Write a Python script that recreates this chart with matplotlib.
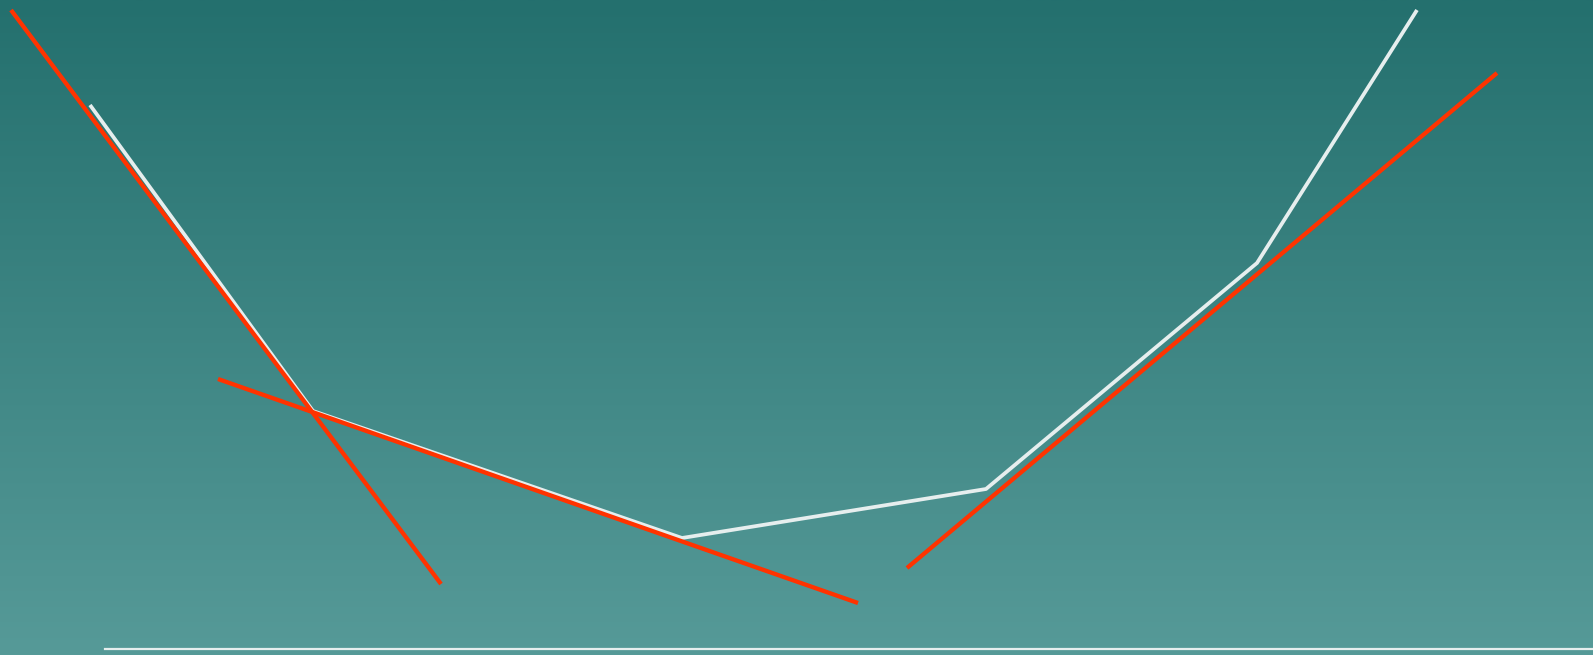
import numpy as np
import matplotlib
matplotlib.use("Agg")
import matplotlib.pyplot as plt
from matplotlib.colors import LinearSegmentedColormap

# Data
white_x = [90, 313, 682, 986, 1257, 1417]
white_y = [544, 238, 111, 160, 386, 639]

red_a_x = [11, 441]
red_a_y = [639, 65]
red_b_x = [218, 858]
red_b_y = [270, 46]
red_c_x = [907, 1497]
red_c_y = [81, 576]

fig = plt.figure(figsize=(15.93, 6.55), dpi=100)
ax = fig.add_axes([0, 0, 1, 1])
ax.set_xlim(0, 1593)
ax.set_ylim(-6, 649)

cmap = LinearSegmentedColormap.from_list("bg", ["#569a98", "#24706e"])
grad = np.linspace(0, 1, 256).reshape(-1, 1)
ax.imshow(grad, aspect="auto", cmap=cmap, origin="lower",
          extent=[0, 1593, -6, 649], zorder=0)

ax.plot(white_x, white_y, color="#e6eeee", lw=2.7, zorder=2, solid_capstyle="butt")
for xs, ys in [(red_a_x, red_a_y), (red_b_x, red_b_y), (red_c_x, red_c_y)]:
    ax.plot(xs, ys, color="#ff3300", lw=3.1, zorder=3, solid_capstyle="butt")

for s in ["top", "right", "left"]:
    ax.spines[s].set_visible(False)
ax.spines["bottom"].set_position(("data", 0))
ax.spines["bottom"].set_bounds(105, 1593)
ax.spines["bottom"].set_color("#e6eeee")
ax.spines["bottom"].set_linewidth(1.6)
ax.spines["bottom"].set_zorder(4)
ax.set_xticks([])
ax.set_yticks([])

fig.savefig("out.png", dpi=100)
